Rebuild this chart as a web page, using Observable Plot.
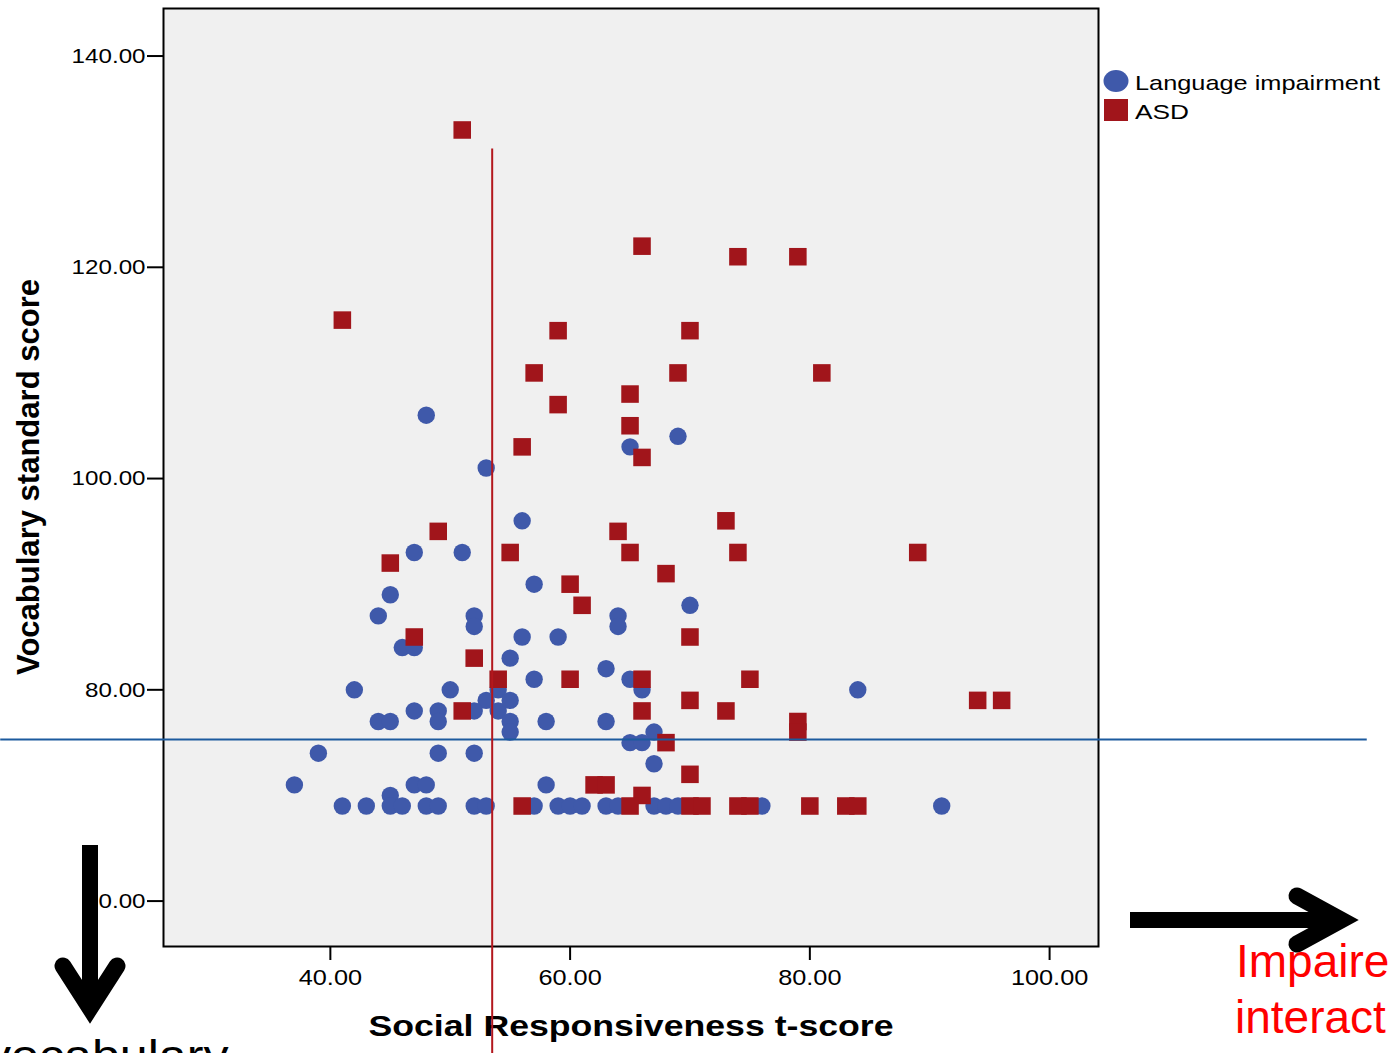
<!DOCTYPE html>
<html>
<head>
<meta charset="utf-8">
<script src="https://cdn.jsdelivr.net/npm/d3@7"></script>
<script src="https://cdn.jsdelivr.net/npm/@observablehq/plot@0.6"></script>
<style>
html, body { margin: 0; padding: 0; background: #ffffff; width: 1393px; height: 1053px; overflow: hidden; }
#wrap { position: relative; width: 1393px; height: 1053px; }
#wrap > svg { position: absolute; left: 0; top: 0; }
</style>
</head>
<body>
<div id="wrap"></div>
<script>
// ---- data ----
const groups = ["Language impairment", "ASD"];

// Language impairment (circles): Social Responsiveness t-score / Vocabulary standard score
const liX = [45,44,52,52,46,47,55,42,50,53,54,54,55,52,47,49,49,44,45,39,49,52,37,47,48,45,
             57,64,64,70,56,59,57,63,65,66,55,55,58,63,67,65,66,67,58,84,48,69,65,53,56,47,51,
             41,43,45,46,48,49,52,53,57,59,60,61,63,64,67,68,69,76,91];
const liY = [89,87,87,86,84,84,83,80,80,79,80,78,79,78,78,78,77,77,77,74,74,74,71,71,71,70,
             90,87,86,88,85,85,81,82,81,80,77,76,77,77,76,75,75,73,71,80,106,104,103,101,96,93,93,
             69,69,69,69,69,69,69,69,69,69,69,69,69,69,69,69,69,69,69];

// ASD (squares)
const asdX = [51,66,74,79,41,59,70,57,69,81,65,59,65,56,66,73,49,64,45,55,65,74,89,68,60,61,
              47,70,52,54,60,66,75,70,94,96,51,66,73,79,79,68,70,62,63,66,
              56,65,70,71,74,75,80,83,84];
const asdY = [133,122,121,121,115,114,114,110,110,110,108,107,105,103,102,96,95,95,92,93,93,93,93,91,90,88,
              85,85,83,81,81,81,81,79,79,79,78,78,78,77,76,75,72,71,71,70,
              69,69,69,69,69,69,69,69,69];

const xTicks = [40, 60, 80, 100];
const yTicks = [60, 80, 100, 120, 140];

// reference (cut-off) lines drawn over the chart
const vocabCutoff = [{ y: 75.3, x1: 12.5, x2: 126.5 }];
const srsCutoff = [{ x: 53.5, y1: 131.2, y2: 44 }];

const xTitle = "Social Responsiveness t-score";
const yTitle = "Vocabulary standard score";

// ---- build ----
const blue = "#3f59aa";
const red = "#a1151b";
const font = "'Liberation Sans', Arial, Helvetica, sans-serif";

const li = liX.map((x, i) => ({ x, y: liY[i], group: groups[0] }));
const asd = asdX.map((x, i) => ({ x, y: asdY[i], group: groups[1] }));

const chart = Plot.plot({
  width: 1393,
  height: 1053,
  marginLeft: 163,
  marginRight: 295,
  marginTop: 8,
  marginBottom: 107,
  style: { fontFamily: font, background: "transparent", overflow: "visible", color: "#000" },
  x: { domain: [26.08, 104.08] },
  y: { domain: [55.7, 144.5] },
  marks: [
    Plot.frame({ fill: "#f0f0f0", stroke: null }),
    Plot.dot(li, { x: "x", y: "y", r: 8.7, fill: blue, symbol: "circle" }),
    Plot.dot(asd, { x: "x", y: "y", r: 9.9, fill: red, symbol: "square" }),
    Plot.frame({ stroke: "#000", strokeWidth: 2 }),
    Plot.axisY({ ticks: yTicks, tickFormat: d3.format(".2f"), tickSize: 16, tickPadding: 2,
                 fontSize: 21, label: null, stroke: "#000", fill: "#000", strokeWidth: 2, className: "yax" }),
    Plot.axisX({ ticks: xTicks, tickFormat: d3.format(".2f"), tickSize: 14, tickPadding: 9,
                 fontSize: 22, label: null, stroke: "#000", fill: "#000", strokeWidth: 2, className: "xax" }),
    Plot.text([xTitle], { text: d => d, frameAnchor: "bottom", dy: 80, lineAnchor: "middle",
                          fontSize: 30, fontWeight: "bold", fill: "#000", className: "xtitle" }),
    Plot.text([yTitle], { text: d => d, frameAnchor: "left", dx: -135, rotate: -90, lineAnchor: "middle",
                          fontSize: 32, fontWeight: "bold", fill: "#000", className: "ytitle" }),
    Plot.ruleY(vocabCutoff, { y: "y", x1: "x1", x2: "x2", stroke: "#1c5a9e", strokeWidth: 2 }),
    Plot.ruleX(srsCutoff, { x: "x", y1: "y1", y2: "y2", stroke: "#b3171d", strokeWidth: 2 })
  ]
});

const wrap = document.getElementById("wrap");
wrap.appendChild(chart);

// horizontal stretch of the original artwork
function stretch(sel, k) {
  chart.querySelectorAll(sel).forEach(t => {
    const w = t.getComputedTextLength();
    t.setAttribute("textLength", (w * k).toFixed(1));
    t.setAttribute("lengthAdjust", "spacingAndGlyphs");
  });
}
stretch(".yax text", 1.15);
stretch(".xax text", 1.15);
chart.querySelectorAll(".xtitle text").forEach(t => { t.setAttribute("textLength", 525); t.setAttribute("lengthAdjust", "spacingAndGlyphs"); });
chart.querySelectorAll(".ytitle text").forEach(t => {
  t.setAttribute("textLength", 396);
  t.setAttribute("lengthAdjust", "spacingAndGlyphs");
  // re-centre the stretched title on the frame's vertical middle
  const r = t.getBoundingClientRect();
  const target = (8 + (1053 - 107)) / 2;
  const shift = target - (r.top + r.bottom) / 2;
  const g = t.parentNode;
  g.setAttribute("transform", ((g.getAttribute("transform") || "") + ` translate(0,${shift.toFixed(1)})`).trim());
});

// ---- legend and slide annotations ----
const ns = "http://www.w3.org/2000/svg";
const over = d3.select(wrap).append("svg")
  .attr("xmlns", ns).attr("width", 1393).attr("height", 1053)
  .style("font-family", font).style("overflow", "hidden");

const leg = over.append("g");
leg.append("ellipse").attr("cx", 1116).attr("cy", 81).attr("rx", 12.5).attr("ry", 11).attr("fill", blue);
leg.append("rect").attr("x", 1104).attr("y", 99).attr("width", 24).attr("height", 22).attr("fill", red);
leg.append("text").attr("x", 1135).attr("y", 90).attr("font-size", 21).attr("fill", "#000")
   .attr("textLength", 245).attr("lengthAdjust", "spacingAndGlyphs").text(groups[0]);
leg.append("text").attr("x", 1135).attr("y", 119).attr("font-size", 21).attr("fill", "#000")
   .attr("textLength", 54).attr("lengthAdjust", "spacingAndGlyphs").text(groups[1]);

// down arrow (bottom-left)
over.append("line").attr("x1", 90).attr("y1", 845).attr("x2", 90).attr("y2", 1005)
  .attr("stroke", "#000").attr("stroke-width", 16);
over.append("polyline").attr("points", "63,966 90,1008 117,966").attr("fill", "none")
  .attr("stroke", "#000").attr("stroke-width", 17).attr("stroke-linecap", "round").attr("stroke-linejoin", "miter");
over.append("text").attr("transform", "translate(-14,1071) scale(1.14,1)")
  .attr("font-size", 44).attr("fill", "#000").text("vocabulary");

// right arrow (bottom-right)
over.append("line").attr("x1", 1130).attr("y1", 920).attr("x2", 1340).attr("y2", 920)
  .attr("stroke", "#000").attr("stroke-width", 16);
over.append("polyline").attr("points", "1297,896 1341,920 1297,944").attr("fill", "none")
  .attr("stroke", "#000").attr("stroke-width", 17).attr("stroke-linecap", "round").attr("stroke-linejoin", "miter");
over.append("text").attr("x", 1236).attr("y", 977)
  .attr("font-size", 46).attr("fill", "#ff0000").text("Impaire");
over.append("text").attr("x", 1235).attr("y", 1033)
  .attr("font-size", 46).attr("fill", "#ff0000").text("interact");
</script>
</body>
</html>
